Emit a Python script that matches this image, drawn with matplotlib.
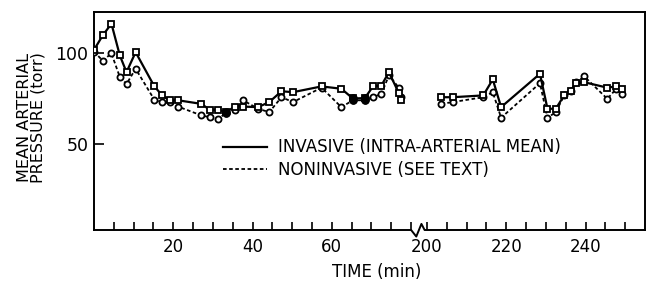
import matplotlib
matplotlib.use("Agg")
import matplotlib.pyplot as plt
from matplotlib.lines import Line2D
import matplotlib.transforms as mtransforms

# readings taken off the figure (time in min, pressure in torr)
t_early = [0, 2.2, 4.4, 6.5, 8.2, 10.5, 15.2, 17.2, 19.1, 21.2, 27.1, 29.2, 31.3, 33.4, 35.5,
           37.6, 41.4, 44.2, 47.3, 50.2, 57.4, 62.4, 65.3, 68.3, 70.4, 72.5, 74.4, 76.9, 77.5]
inv_early = [102, 110, 116.5, 99, 89.6, 100.7, 81.8, 76.7, 74, 74, 72, 68.7, 68.7, 67.5, 70.5,
             70.5, 70.2, 73, 79, 78.5, 81.7, 80.4, 75, 75.2, 81.7, 82.2, 89.6, 78, 74.3]
non_early = [101, 96, 100, 87, 83, 91.5, 74.4, 73, 73, 70.5, 65.6, 64.6, 63.7, 67, 68.7,
             74, 69.3, 67.4, 75.7, 73, 81, 70.2, 74, 74, 75.7, 77.6, 87.8, 81, 75.7]

t_late = [203.6, 206.5, 214.2, 216.6, 218.7, 228.5, 230.4, 232.5, 234.6, 236.3, 237.6, 239.7,
          245.5, 247.6, 249.3]
inv_late = [75.7, 75.7, 76.7, 85.6, 70.2, 88.7, 69.3, 69.3, 76.7, 79.4, 83.5, 84, 81, 81.7, 80]
non_late = [72, 73, 75.7, 78.5, 64.3, 83.5, 64.3, 67.4, 76.7, 79.4, 84, 87.2, 74.8, 80, 77.6]

filled_times = [33.4, 65.3, 68.3]   # points drawn as solid black dots

ticks_early = list(range(5, 85, 5))
ticks_late = list(range(200, 255, 5))
labelled = [20, 40, 60, 200, 220, 240]

GAP = 116      # minutes cut out of the axis (200 min sits at 84)
BREAK_AT = 81  # where the zigzag goes


def squeeze(t):
    return t if t < 150 else t - GAP


plt.rcParams['font.family'] = 'DejaVu Sans'
fig = plt.figure(figsize=(6.51, 2.82), dpi=100)
ax = fig.add_axes([94 / 651, 1 - 230 / 282, (645 - 94) / 651, (230 - 12) / 282])

for ts, inv, non in [(t_early, inv_early, non_early), (t_late, inv_late, non_late)]:
    x = [squeeze(t) for t in ts]
    ax.plot(x, non, color='black', lw=1.3, ls=(0, (2, 1.4)), marker='o', ms=4.4,
            mfc='white', mec='black', mew=1.3, zorder=3)
    ax.plot(x, inv, color='black', lw=1.6, ls='-', marker='s', ms=4.2,
            mfc='white', mec='black', mew=1.3, zorder=4)

# the filled points
for t in filled_times:
    i = t_early.index(t)
    ax.plot([squeeze(t)] * 2, [inv_early[i], non_early[i]], ls='none', marker='o', ms=5.2,
            color='black', zorder=5)

ax.set_xlim(0, 139)
ax.set_ylim(2, 123)

xt = [squeeze(t) for t in ticks_early + ticks_late]
xl = [str(t) if t in labelled else '' for t in ticks_early + ticks_late]
ax.set_xticks(xt)
ax.set_xticklabels(xl)
ax.set_yticks([50, 100])
ax.set_yticklabels(['50', '100'])
ax.tick_params(axis='x', direction='in', length=6, width=1.2, pad=6, labelsize=12)
ax.tick_params(axis='y', direction='in', length=7, width=1.2, pad=4, labelsize=12.5)

for s in ['left', 'right', 'top']:
    ax.spines[s].set_linewidth(1.4)
ax.spines['bottom'].set_visible(False)

# bottom axis drawn by hand so it can carry the break mark
trans = mtransforms.blended_transform_factory(ax.transData, ax.transAxes)
ax.plot([0, BREAK_AT - 1, BREAK_AT + 0.3, BREAK_AT + 1.6, BREAK_AT + 2.4, 139],
        [0, 0, -0.03, 0.028, 0, 0], color='black', lw=1.4, transform=trans,
        clip_on=False, zorder=6)

handles = [Line2D([], [], color='black', lw=1.6),
           Line2D([], [], color='black', lw=1.3, ls=(0, (2, 1.4)))]
ax.legend(handles, ['INVASIVE (INTRA-ARTERIAL MEAN)', 'NONINVASIVE (SEE TEXT)'],
          loc='upper left', bbox_to_anchor=(0.235, 0.42), frameon=False, fontsize=12,
          handlelength=2.6, handletextpad=0.7, labelspacing=0.25, borderpad=0,
          borderaxespad=0)

fig.text(31 / 651, 1 - 118 / 282, 'MEAN ARTERIAL\nPRESSURE (torr)', rotation=90,
         ha='center', va='center', fontsize=11.5, linespacing=0.85)
fig.text(377 / 651, 1 - 272 / 282, 'TIME (min)', ha='center', va='center', fontsize=12)

fig.savefig('out.png', dpi=100)
